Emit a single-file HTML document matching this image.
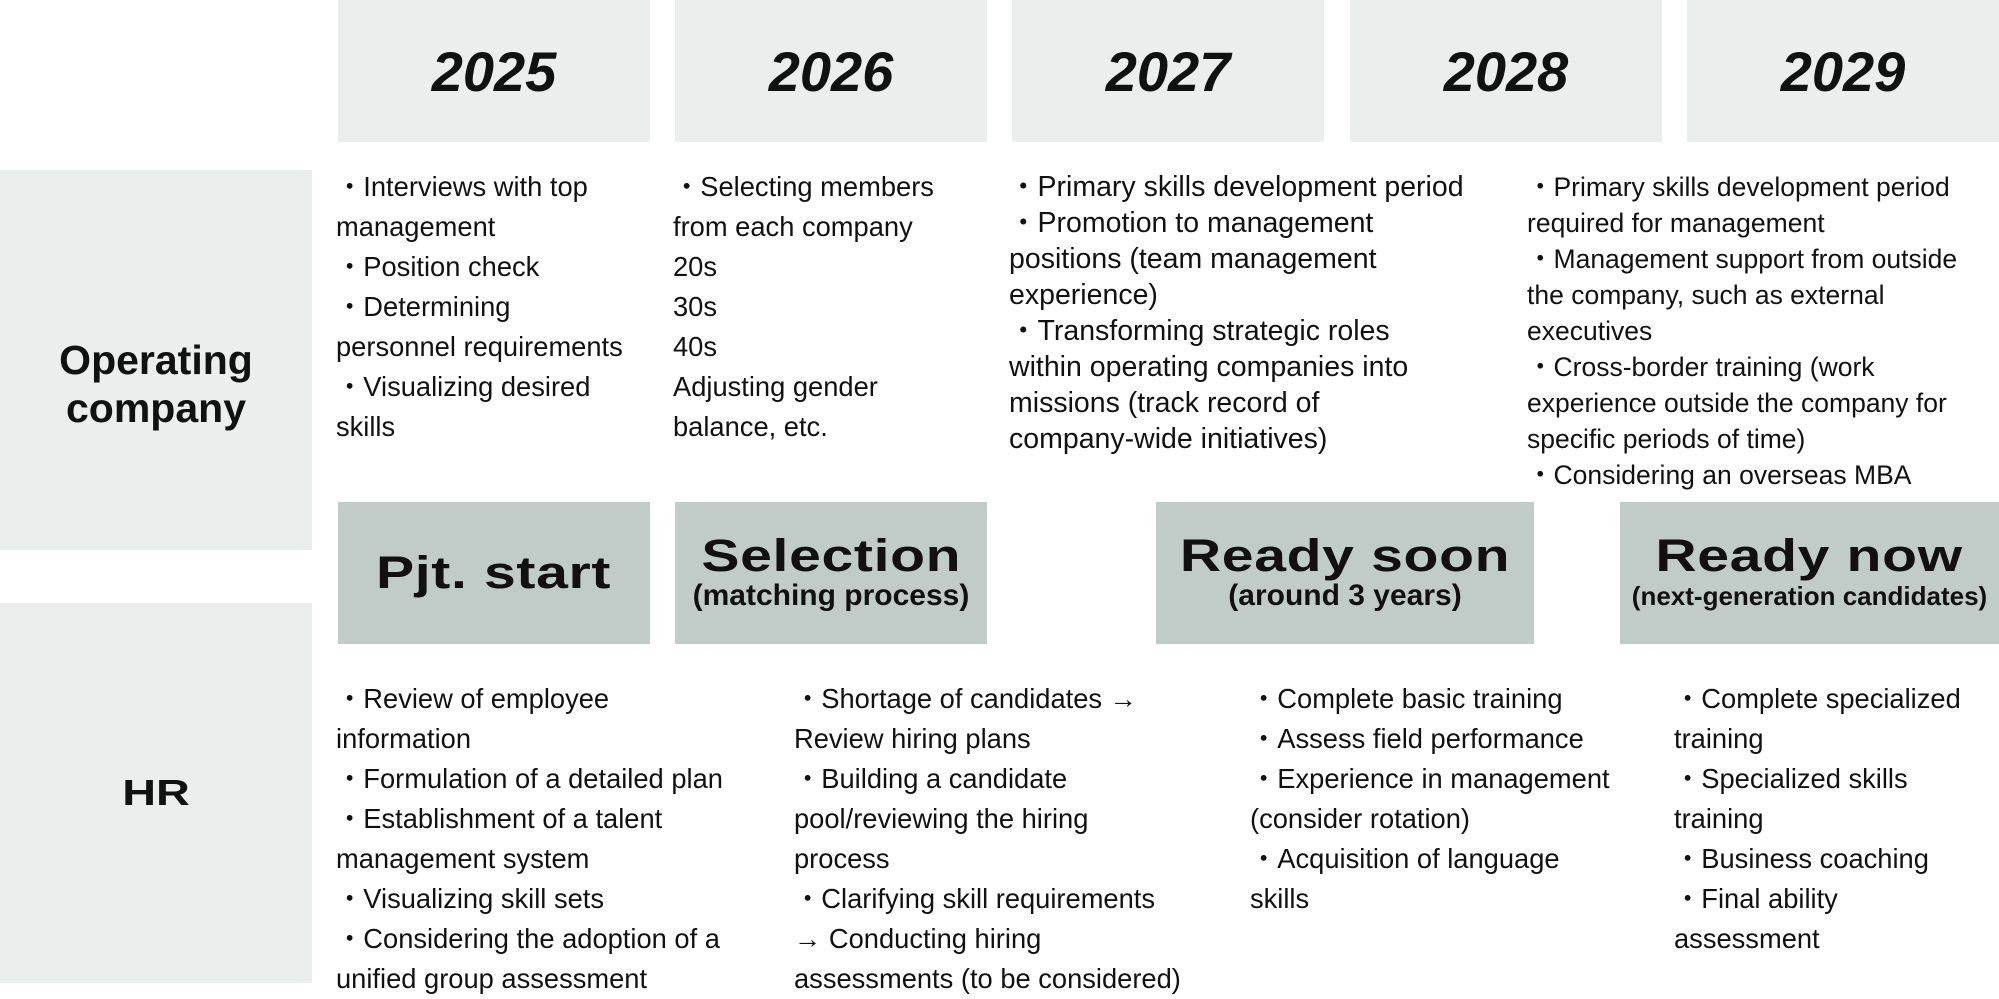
<!DOCTYPE html>
<html><head><meta charset="utf-8"><style>
body{margin:0;width:1999px;height:999px;position:relative;background:#fff;overflow:hidden;font-family:"Liberation Sans",sans-serif;color:#111}
.b{position:absolute}
.y{background:#eceeed;top:0;height:142px;width:312px;display:flex;align-items:center;justify-content:center;font-weight:bold;font-style:italic;font-size:56px}
.l{background:#eceeed;left:0;width:312px}
.p{background:#c1ccc8;top:502px;height:142px;display:flex;flex-direction:column;align-items:center;justify-content:center;text-align:center}
.big{font-weight:bold;font-size:45px;transform:scaleX(1.27);line-height:46px;letter-spacing:0.5px}
.sub{font-weight:bold;font-size:30px;line-height:34px}
.t{position:absolute;font-size:27.3px;white-space:nowrap;line-height:40px}
.t2{line-height:36px}
</style></head><body>
<div class="b y" style="left:338px">2025</div>
<div class="b y" style="left:675px">2026</div>
<div class="b y" style="left:1012px">2027</div>
<div class="b y" style="left:1350px">2028</div>
<div class="b y" style="left:1687px">2029</div>

<div class="b l" style="top:170px;height:380px"></div>
<div class="b l" style="top:603px;height:380px"></div>
<div class="b" style="left:0;width:312px;top:336px;text-align:center;font-weight:bold;font-size:41px;line-height:48px">Operating<br>company</div>
<div class="b" style="left:0;width:312px;top:771px;text-align:center;font-weight:bold;font-size:36px;line-height:44px;transform:scaleX(1.3)">HR</div>

<div class="b p" style="left:338px;width:312px"><div class="big">Pjt. start</div></div>
<div class="b p" style="left:675px;width:312px"><div class="big">Selection</div><div class="sub">(matching process)</div></div>
<div class="b p" style="left:1156px;width:378px"><div class="big">Ready soon</div><div class="sub">(around 3 years)</div></div>
<div class="b p" style="left:1620px;width:379px"><div class="big">Ready now</div><div class="sub" style="font-size:26px">(next-generation candidates)</div></div>

<div class="t" style="left:336px;top:167px">・Interviews with top<br>management<br>・Position check<br>・Determining<br>personnel requirements<br>・Visualizing desired<br>skills</div>
<div class="t" style="left:673px;top:167px">・Selecting members<br>from each company<br>20s<br>30s<br>40s<br>Adjusting gender<br>balance, etc.</div>
<div class="t t2" style="left:1009px;top:169px;font-size:28.5px">・Primary skills development period<br>・Promotion to management<br>positions (team management<br>experience)<br>・Transforming strategic roles<br>within operating companies into<br>missions (track record of<br>company-wide initiatives)</div>
<div class="t t2" style="left:1527px;top:169px;font-size:26.5px">・Primary skills development period<br>required for management<br>・Management support from outside<br>the company, such as external<br>executives<br>・Cross-border training (work<br>experience outside the company for<br>specific periods of time)<br>・Considering an overseas MBA</div>

<div class="t" style="left:336px;top:679px">・Review of employee<br>information<br>・Formulation of a detailed plan<br>・Establishment of a talent<br>management system<br>・Visualizing skill sets<br>・Considering the adoption of a<br>unified group assessment</div>
<div class="t" style="left:794px;top:679px">・Shortage of candidates →<br>Review hiring plans<br>・Building a candidate<br>pool/reviewing the hiring<br>process<br>・Clarifying skill requirements<br>→ Conducting hiring<br>assessments (to be considered)</div>
<div class="t" style="left:1250px;top:679px">・Complete basic training<br>・Assess field performance<br>・Experience in management<br>(consider rotation)<br>・Acquisition of language<br>skills</div>
<div class="t" style="left:1674px;top:679px">・Complete specialized<br>training<br>・Specialized skills<br>training<br>・Business coaching<br>・Final ability<br>assessment</div>
</body></html>
